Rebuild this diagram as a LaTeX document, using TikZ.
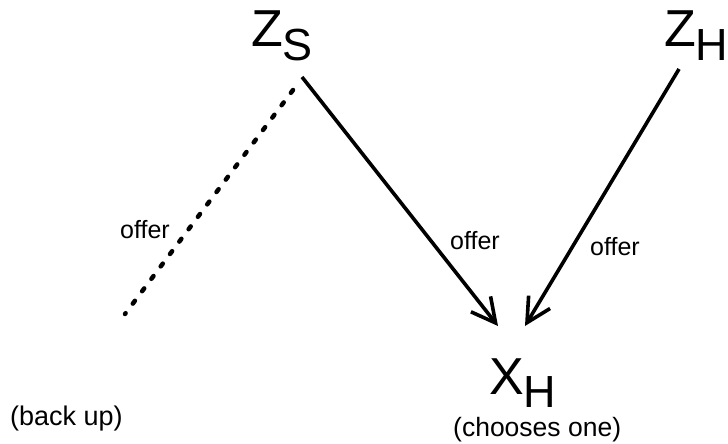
\documentclass[tikz,border=0pt]{standalone}
\usepackage{fontspec}
\setmainfont{Liberation Sans}
\usetikzlibrary{arrows.meta}
\newcommand{\bigsym}[2]{{\fontsize{52pt}{56pt}\selectfont #1}\raisebox{-13.5pt}{\fontsize{45pt}{50pt}\selectfont #2}}
\begin{document}
\begin{tikzpicture}[x=1pt,y=-1pt,
  sym/.style={inner sep=0pt,anchor=base west},
  lbl/.style={inner sep=0pt,font=\fontsize{25pt}{28pt}\selectfont},
  note/.style={inner sep=0pt,anchor=base west,font=\fontsize{26.5pt}{30pt}\selectfont},
  offerarrow/.style={line width=3.6pt,-{Straight Barb[length=24pt,width=25pt,line width=3.6pt]}},
  backline/.style={line width=4.5pt,line cap=round,dash pattern=on 3.5pt off 12pt}]
\useasboundingbox (0,0) rectangle (728,444);
\node[sym] (zs) at (251,47) {\bigsym{Z}{S}};
\node[sym] (zh) at (664,47) {\bigsym{Z}{H}};
\node[sym] (xh) at (489,394) {\bigsym{X}{H}};
\node[note] (choose) at (453,436) {(chooses one)};
\node[note,font=\fontsize{27pt}{30pt}\selectfont] (backup) at (10,425) {(back up)};
\coordinate (zsout) at (302,77);
\coordinate (zsback) at (293,90);
\coordinate (backend) at (125,314);
\coordinate (zhout) at (679,69);
\coordinate (xhinL) at (498,326);
\coordinate (xhinR) at (525,326);
\draw[offerarrow] (zsout) -- (xhinL);
\draw[offerarrow] (zhout) -- (xhinR);
\draw[backline] (zsback) -- (backend);
\node[lbl] (offerA) at (145,230) {offer};
\node[lbl] (offerB) at (475,241) {offer};
\node[lbl] (offerC) at (615,247) {offer};
\end{tikzpicture}
\end{document}
